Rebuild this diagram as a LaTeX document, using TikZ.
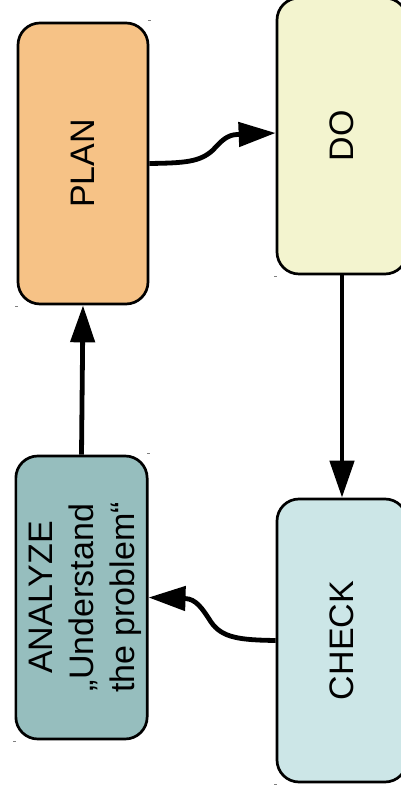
\documentclass[tikz,border=0pt]{standalone}
\usepackage{fontspec}
\setmainfont{Liberation Sans}
\usetikzlibrary{arrows.meta}
\definecolor{planfill}{RGB}{246,194,134}
\definecolor{dofill}{RGB}{243,244,207}
\definecolor{anafill}{RGB}{150,190,190}
\definecolor{chkfill}{RGB}{204,230,231}
\begin{document}
\begin{tikzpicture}[x=1pt,y=1pt,
  box/.style={draw=black, line width=2.7pt, rounded corners=22pt,
    minimum width=130pt, inner sep=0pt, font=\fontsize{34}{41}\selectfont},
  conn/.style={line width=4.8pt, -{Triangle[length=37pt,width=24pt]}},
  tick/.style={draw=gray, line width=1pt}]
\useasboundingbox (0,0) rectangle (401,790);
\clip (0,0) rectangle (401,790);
\node[box, fill=planfill, minimum height=281pt] (plan) at (83,626.5) {\rotatebox{90}{PLAN}};
\node[box, fill=dofill, minimum height=276pt] (do) at (342,654) {\rotatebox{90}{DO}};
\node[box, fill=anafill, minimum width=131pt, minimum height=283pt] (analyze) at (81.5,192.5)
  {\rotatebox{90}{\begin{tabular}{@{}c@{}}\rule{0pt}{37pt}ANALYZE\\„Understand\\the problem“\end{tabular}}};
\node[box, fill=chkfill, minimum height=283pt] (check) at (342,149.5) {\rotatebox{90}{CHECK}};
% connectors
\draw[conn] (analyze.north) -- (plan.south);
\draw[conn] (plan.east) .. controls (185,627) and (200,628) .. (213,640)
  .. controls (222,650) and (228,655.5) .. (238,655.5) -- ([yshift=3pt]do.west);
\draw[conn] (do.south) -- (check.north);
\draw[conn] (check.west) .. controls (240,150) and (222,152) .. (211,168)
  .. controls (202,182) and (196,191) .. (185,191.5) -- (analyze.east);
% small corner marks
\draw[tick] ([xshift=-1.5pt,yshift=1pt]plan.north east) -- ++(3,0);
\draw[tick] ([xshift=-1.5pt,yshift=-1pt]plan.south west) -- ++(3,0);
\draw[tick] ([xshift=-1.5pt,yshift=-1pt]do.south west) -- ++(3,0);
\draw[tick] ([xshift=-1.5pt,yshift=1pt]analyze.north east) -- ++(3,0);
\draw[tick] ([xshift=-1.5pt,yshift=-1pt]analyze.south west) -- ++(3,0);
\draw[tick] ([xshift=-1.5pt,yshift=-1pt]check.south west) -- ++(3,0);
\end{tikzpicture}
\end{document}
